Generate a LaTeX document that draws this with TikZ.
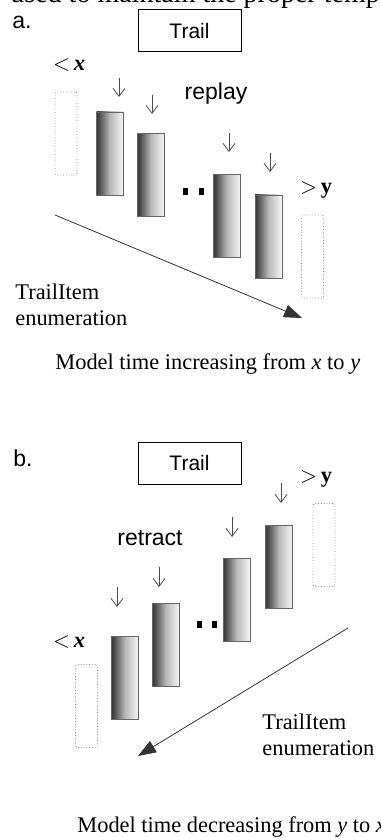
\documentclass[tikz,border=0pt]{standalone}
\usepackage{fontspec}
\setmainfont{Liberation Serif}
\setsansfont{Liberation Sans}
\usetikzlibrary{arrows.meta}

\pgfdeclarehorizontalshading{itemshade}{100bp}{color(0bp)=(black); color(12bp)=(black); color(30bp)=(black!70); color(50bp)=(gray!55); color(68bp)=(gray!20); color(80bp)=(white); color(100bp)=(white)}

\begin{document}
\begin{tikzpicture}[x=0.5pt,y=-0.5pt,
    bar/.style={draw=black!60, line width=0.4pt, shading=itemshade, minimum width=13.5pt, minimum height=41.5pt, inner sep=0pt},
    ghost/.style={draw=black!45, densely dotted, rounded corners=1pt, minimum width=11pt, minimum height=41.5pt, inner sep=0pt},
    trailbox/.style={draw, line width=0.5pt, minimum width=51.5pt, minimum height=21pt, font=\sffamily\fontsize{10.5}{12}\selectfont},
    pointer/.style={-{Straight Barb[length=4pt,width=6pt]}, draw=black!70, line width=0.4pt},
    enum/.style={-{Triangle[length=9pt,width=6.5pt]}, draw=black!80, line width=0.4pt},
    dotmark/.style={fill=black, minimum width=2.5pt, minimum height=3.5pt, inner sep=0pt},
    serif/.style={font=\fontsize{11.2}{13}\selectfont, inner sep=0pt},
    sans/.style={font=\sffamily\fontsize{11.5}{13}\selectfont, inner sep=0pt}]
    \useasboundingbox (0,0) rectangle (380,838);
    \clip (0,0) rectangle (380,838);

    \node[anchor=base west, font=\fontsize{14}{16}\selectfont, inner sep=0pt] (pagetext) at (10,3) {used to maintain the proper temporal};

    % a. replay
    \node[sans] (labA) at (22,22) {a.};
    \node[trailbox] (trailA) at (189.5,31) {Trail\hspace{7.5pt}};
    \node[serif] (ltxA) at (69,65) {$<$\,\textbf{\textit{x}}};
    \node[sans] (replay) at (216,94) {replay};
    \node[ghost] (ghostA1) at (66,133.5) {};
    \node[bar] (itemA1) at (110,153.5) {};
    \node[bar] (itemA2) at (151,175) {};
    \node[dotmark] (dotA1) at (185.5,192) {};
    \node[dotmark] (dotA2) at (201.5,192) {};
    \node[bar] (itemA3) at (227,216) {};
    \node[bar] (itemA4) at (268.5,236.5) {};
    \node[serif] (gtyA) at (316,190) {$>$\,\textbf{y}};
    \node[ghost] (ghostA2) at (312.5,256.5) {};
    \node[serif, anchor=west, align=left] (enumA) at (15,305) {TrailItem\\enumeration};
    \node[serif, anchor=base west] (capA) at (55,370) {Model time increasing from \textit{x} to \textit{y}};

    \coordinate (pA1) at (119,78);
    \coordinate (pA2) at (152,95);
    \coordinate (pA3) at (229,133);
    \coordinate (pA4) at (270,153);
    \foreach \p in {pA1,pA2,pA3,pA4}
        \draw[pointer] (\p) -- ++(0,19);

    \coordinate (enumAs) at (55,215);
    \coordinate (enumAe) at (302,318);
    \draw[enum] (enumAs) -- (enumAe);

    % b. retract
    \node[sans] (labB) at (23,458) {b.};
    \node[trailbox] (trailB) at (189.5,463) {Trail\hspace{7.5pt}};
    \node[serif] (gtyB) at (316,479) {$>$\,\textbf{y}};
    \node[ghost] (ghostB2) at (324,545) {};
    \node[bar] (itemB4) at (279,566.5) {};
    \node[sans] (retract) at (150,538) {retract};
    \node[bar] (itemB3) at (236.5,599.5) {};
    \node[dotmark] (dotB1) at (199.5,624) {};
    \node[dotmark] (dotB2) at (214,624) {};
    \node[bar] (itemB2) at (166,644.5) {};
    \node[bar] (itemB1) at (125,678) {};
    \node[serif] (ltxB) at (69,642) {$<$\,\textbf{\textit{x}}};
    \node[ghost] (ghostB1) at (86.5,706) {};
    \node[serif, anchor=west, align=left] (enumB) at (262,735) {TrailItem\\enumeration};
    \node[serif, anchor=base west] (capB) at (77,832) {Model time decreasing from \textit{y} to \textit{x}};

    \coordinate (pB4) at (281,483);
    \coordinate (pB3) at (232,517);
    \coordinate (pB2) at (159,567);
    \coordinate (pB1) at (117,587);
    \foreach \p in {pB1,pB2,pB3,pB4}
        \draw[pointer] (\p) -- ++(0,20);

    \coordinate (enumBs) at (348,628);
    \coordinate (enumBe) at (138,756);
    \draw[enum] (enumBs) -- (enumBe);
\end{tikzpicture}
\end{document}
